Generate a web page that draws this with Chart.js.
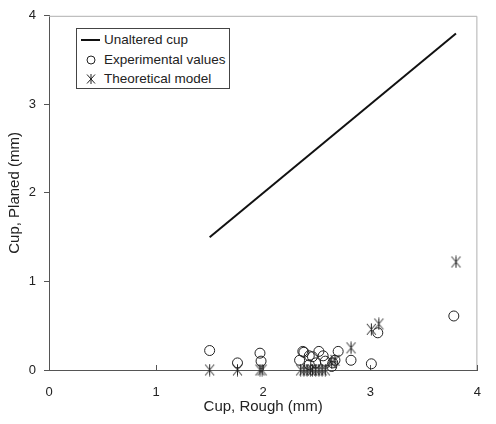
<!DOCTYPE html>
<html>
<head>
<meta charset="utf-8">
<script src="https://cdn.jsdelivr.net/npm/chart.js@4/dist/chart.umd.min.js"></script>
<style>
  html, body { margin:0; padding:0; background:#fff; }
  .wrap { position:relative; width:496px; height:424px; }
  .legend { position:absolute; left:76px; top:28px; width:152px; height:59px; border:1px solid #444; background:#fff;
    font-family: Arial, 'Liberation Sans', sans-serif; font-size:13.5px; color:#222; }
  .row { position:absolute; left:3px; height:16px; line-height:16px; white-space:nowrap; }
  .row svg { position:absolute; left:0; top:1px; }
  .row span { position:absolute; left:24px; top:0; }
</style>
</head>
<body>
<div class="wrap">
  <canvas id="cupChart" width="496" height="424"></canvas>
  <div class="legend">
    <div class="row" style="top:3px"><svg width="22" height="14"><line x1="1" y1="7" x2="20" y2="7" stroke="#111" stroke-width="2"/></svg><span>Unaltered cup</span></div>
    <div class="row" style="top:23px"><svg width="22" height="14"><circle cx="11" cy="7" r="4" fill="none" stroke="#222" stroke-width="1"/></svg><span>Experimental values</span></div>
    <div class="row" style="top:42px"><svg width="22" height="14"><g stroke="#222" stroke-width="1"><line x1="11" y1="2" x2="11" y2="12"/><line x1="7" y1="2.5" x2="15" y2="11.5"/><line x1="15" y1="2.5" x2="7" y2="11.5"/></g></svg><span>Theoretical model</span></div>
  </div>
</div>
<script>
// unaltered cup (1:1 line)
const lineX = [1.5, 3.8];
const lineY = [1.5, 3.8];

// experimental values (circles)
const expX = [1.50, 1.76, 1.97, 1.98, 2.34, 2.37, 2.38, 2.43, 2.43, 2.46, 2.49, 2.52, 2.56, 2.58, 2.64, 2.65, 2.67, 2.70, 2.82, 3.01, 3.07, 3.78];
const expY = [0.22, 0.08, 0.19, 0.10, 0.11, 0.21, 0.20, 0.16, 0.06, 0.15, 0.08, 0.21, 0.16, 0.10, 0.04, 0.08, 0.11, 0.21, 0.11, 0.07, 0.42, 0.61];

// theoretical model (asterisks)
const theoX = [1.50, 1.76, 1.97, 1.99, 2.35, 2.38, 2.41, 2.44, 2.46, 2.49, 2.52, 2.55, 2.58, 2.64, 2.67, 2.82, 3.01, 3.08, 3.80];
const theoY = [0, 0, 0, 0, 0, 0, 0, 0, 0, 0, 0, 0, 0, 0.08, 0.11, 0.25, 0.46, 0.52, 1.22];

const xTicks = [0, 1, 2, 3, 4];
const yTicks = [0, 1, 2, 3, 4];

const pts = (xs, ys) => xs.map((x, i) => ({ x, y: ys[i] }));

// six-armed asterisk marker
function makeStar() {
  const c = document.createElement('canvas');
  c.width = 13; c.height = 13;
  const g = c.getContext('2d');
  g.strokeStyle = '#222'; g.lineWidth = 1;
  g.beginPath();
  g.moveTo(6.5, 0.5); g.lineTo(6.5, 12.5);
  g.moveTo(2, 1); g.lineTo(11, 12);
  g.moveTo(11, 1); g.lineTo(2, 12);
  g.stroke();
  return c;
}

const frame = {
  id: 'frame',
  beforeDatasetsDraw(chart) {
    const { ctx, chartArea: a, scales } = chart;
    ctx.save();
    ctx.strokeStyle = '#b0b0b0'; ctx.lineWidth = 1;
    ctx.beginPath();
    ctx.moveTo(a.left, a.top + 0.5); ctx.lineTo(a.right - 0.5, a.top + 0.5); ctx.lineTo(a.right - 0.5, a.bottom);
    ctx.stroke();
    // inside ticks on the x axis
    ctx.strokeStyle = '#555';
    ctx.beginPath();
    xTicks.forEach(v => {
      const px = Math.round(scales.x.getPixelForValue(v)) + 0.5;
      ctx.moveTo(px, a.bottom); ctx.lineTo(px, a.bottom - 5);
    });
    ctx.stroke();
    ctx.restore();
  }
};

const tickFont = { size: 13, family: 'Arial, "Liberation Sans", sans-serif' };
const titleFont = { size: 15, family: 'Arial, "Liberation Sans", sans-serif' };

new Chart(document.getElementById('cupChart'), {
  type: 'scatter',
  data: {
    datasets: [
      { label: 'Unaltered cup', data: pts(lineX, lineY), showLine: true, borderColor: '#111', borderWidth: 2, pointRadius: 0 },
      { label: 'Experimental values', data: pts(expX, expY), pointStyle: 'circle', pointRadius: 5, borderColor: '#222', borderWidth: 1, backgroundColor: 'rgba(0,0,0,0)', clip: false },
      { label: 'Theoretical model', data: pts(theoX, theoY), pointStyle: makeStar(), pointRadius: 6, clip: false }
    ]
  },
  options: {
    responsive: false, animation: false,
    layout: { padding: { top: 10, right: 4, left: 0, bottom: 0 } },
    plugins: { legend: { display: false }, tooltip: { enabled: false } },
    scales: {
      x: {
        type: 'linear', min: 0, max: 4,
        afterBuildTicks: s => { s.ticks = xTicks.map(v => ({ value: v })); },
        afterFit: s => { s.height = 54; },
        grid: { display: true, drawOnChartArea: false, drawTicks: false },
        border: { color: '#555', width: 1 },
        ticks: { font: tickFont, color: '#222', padding: 15 },
        title: { display: true, text: 'Cup, Rough (mm)', font: titleFont, color: '#222', padding: { top: 0, bottom: 8 } }
      },
      y: {
        type: 'linear', min: 0, max: 4,
        afterBuildTicks: s => { s.ticks = yTicks.map(v => ({ value: v })); },
        afterFit: s => { s.width = 49; },
        grid: { display: true, drawOnChartArea: false, drawTicks: true, tickLength: 5, color: '#555' },
        border: { color: '#555', width: 1 },
        ticks: { font: tickFont, color: '#222', padding: 8 },
        title: { display: true, text: 'Cup, Planed (mm)', font: titleFont, color: '#222', padding: { top: 6, bottom: 0 } }
      }
    }
  },
  plugins: [frame]
});
</script>
</body>
</html>
